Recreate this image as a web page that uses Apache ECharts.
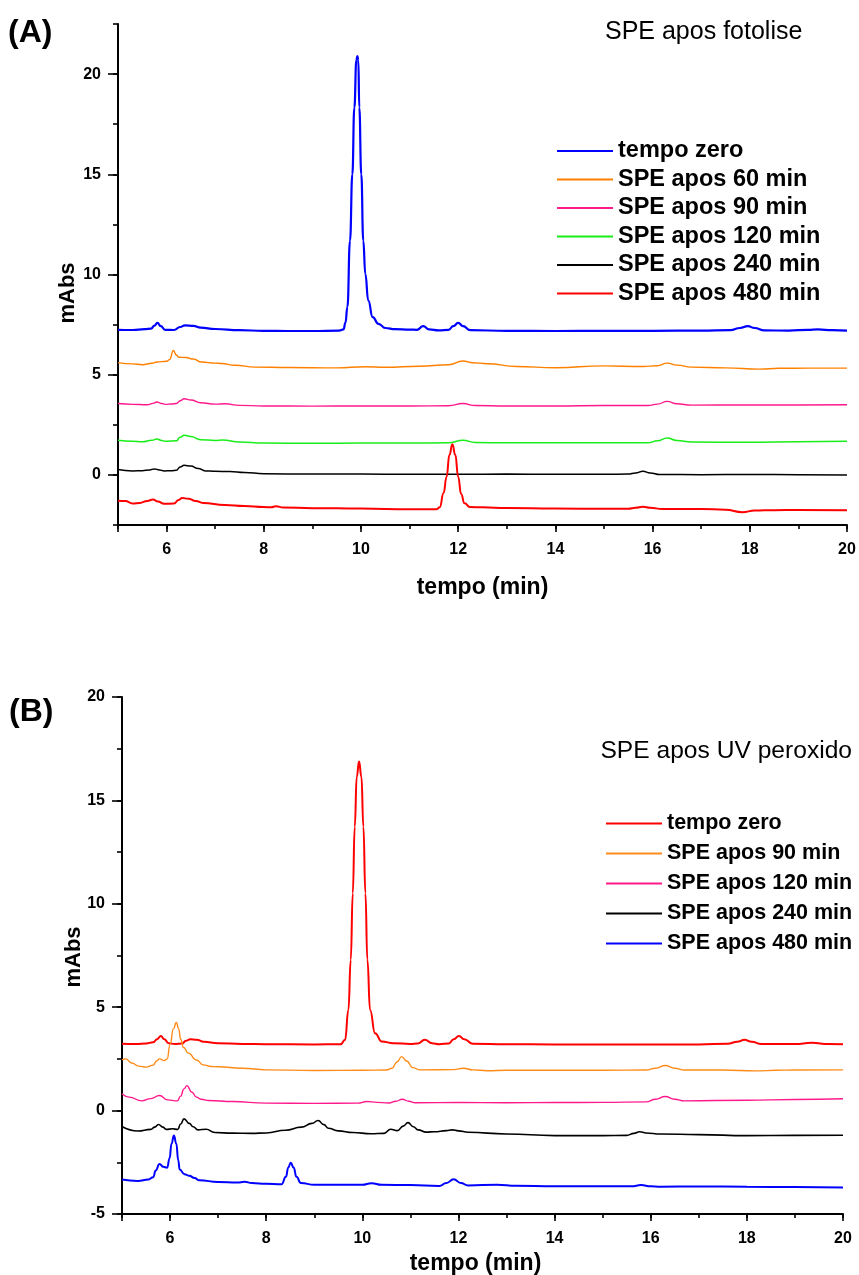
<!DOCTYPE html>
<html>
<head>
<meta charset="utf-8">
<script src="https://cdn.jsdelivr.net/npm/echarts@6/dist/echarts.min.js"></script>
<style>
html, body { margin: 0; padding: 0; background: #fff; overflow: hidden; width: 859px; height: 1275px; }
#panelA { position: absolute; left: 0; top: 0; width: 859px; height: 640px; }
#panelB { position: absolute; left: 0; top: 640px; width: 859px; height: 680px; }
</style>
</head>
<body>
<div id="panelA"></div>
<div id="panelB"></div>
<script>
// ---- Panel A: SPE apos fotolise (retention time in min, absorbance in mAbs) ----
const namesA = ['tempo zero', 'SPE apos 60 min', 'SPE apos 90 min', 'SPE apos 120 min', 'SPE apos 240 min', 'SPE apos 480 min'];
const colorsA = ['#0000ff', '#ff8000', '#ff1a8c', '#1aee1a', '#000000', '#ff0000'];

const aZero = [[5.0,7.24],[5.3,7.23],[5.55,7.27],[5.68,7.3],[5.75,7.45],[5.81,7.59],[5.88,7.42],[5.97,7.24],[6.15,7.23],[6.28,7.38],[6.38,7.46],[6.55,7.44],[6.7,7.35],[7.0,7.28],[7.5,7.22],[8.0,7.19],[8.5,7.18],[9.0,7.18],[9.55,7.2],[9.64,7.26],[9.68,7.6],[9.72,8.37],[9.774,11.69],[9.822,15.0],[9.863,18.33],[9.905,20.7],[9.925,20.9],[9.945,20.7],[9.965,18.33],[10.006,15.0],[10.047,11.69],[10.089,10.03],[10.15,8.7],[10.24,7.87],[10.36,7.54],[10.5,7.33],[10.7,7.27],[11.0,7.25],[11.15,7.24],[11.28,7.42],[11.4,7.26],[11.6,7.21],[11.8,7.24],[11.9,7.42],[12.0,7.59],[12.1,7.42],[12.25,7.22],[13.0,7.19],[14.0,7.18],[15.0,7.19],[16.0,7.19],[17.0,7.2],[17.6,7.22],[17.8,7.33],[17.96,7.42],[18.1,7.33],[18.3,7.21],[18.8,7.2],[19.2,7.24],[19.4,7.26],[19.7,7.22],[20.0,7.2]];
const a60 = [[5.0,5.6],[5.3,5.54],[5.5,5.5],[5.7,5.57],[5.8,5.63],[6.0,5.67],[6.06,5.75],[6.14,6.21],[6.2,5.98],[6.25,5.87],[6.4,5.86],[6.55,5.78],[6.72,5.63],[7.0,5.58],[7.13,5.56],[7.4,5.47],[7.82,5.38],[8.5,5.36],[9.5,5.34],[10.1,5.4],[10.5,5.37],[11.2,5.42],[11.8,5.5],[12.1,5.68],[12.3,5.6],[12.6,5.55],[13.2,5.41],[14.0,5.35],[15.0,5.44],[15.8,5.41],[16.1,5.45],[16.3,5.58],[16.5,5.48],[16.8,5.38],[17.5,5.34],[18.2,5.28],[18.6,5.32],[19.2,5.33],[20.0,5.33]];
const a90 = [[5.0,3.56],[5.3,3.52],[5.6,3.5],[5.72,3.57],[5.8,3.64],[5.9,3.56],[5.97,3.52],[6.1,3.54],[6.2,3.56],[6.28,3.7],[6.36,3.8],[6.5,3.74],[6.7,3.6],[7.0,3.53],[7.2,3.55],[7.5,3.47],[8.0,3.44],[9.0,3.43],[10.0,3.44],[11.0,3.44],[11.8,3.45],[12.1,3.56],[12.35,3.46],[13.0,3.44],[14.0,3.44],[15.0,3.46],[15.9,3.46],[16.1,3.53],[16.3,3.67],[16.5,3.55],[16.8,3.48],[18.0,3.49],[19.0,3.49],[20.0,3.5]];
const a120 = [[5.0,1.73],[5.3,1.68],[5.5,1.65],[5.7,1.73],[5.8,1.79],[5.9,1.72],[5.97,1.68],[6.2,1.7],[6.28,1.88],[6.36,1.98],[6.5,1.92],[6.7,1.76],[7.0,1.72],[7.15,1.74],[7.5,1.64],[8.0,1.59],[9.0,1.58],[10.0,1.59],[11.0,1.59],[11.8,1.6],[12.1,1.73],[12.35,1.62],[13.0,1.6],[14.0,1.6],[15.0,1.61],[15.9,1.6],[16.1,1.7],[16.3,1.84],[16.5,1.72],[16.8,1.64],[18.0,1.63],[19.0,1.66],[20.0,1.68]];
const a240 = [[5.0,0.27],[5.3,0.2],[5.5,0.21],[5.65,0.25],[5.75,0.3],[5.85,0.25],[5.95,0.2],[6.1,0.21],[6.2,0.23],[6.28,0.4],[6.36,0.48],[6.5,0.44],[6.65,0.32],[6.8,0.2],[7.0,0.18],[7.3,0.17],[7.6,0.12],[8.0,0.06],[9.0,0.04],[10.0,0.04],[11.0,0.03],[12.0,0.03],[13.0,0.04],[14.0,0.03],[15.0,0.03],[15.5,0.04],[15.65,0.1],[15.8,0.18],[15.95,0.1],[16.15,0.02],[17.0,0.01],[18.0,0.02],[19.0,0.01],[20.0,0.0]];
const a480 = [[5.0,-1.29],[5.15,-1.3],[5.3,-1.43],[5.45,-1.4],[5.6,-1.3],[5.72,-1.23],[5.82,-1.33],[5.95,-1.44],[6.15,-1.43],[6.25,-1.25],[6.32,-1.15],[6.45,-1.19],[6.6,-1.3],[6.75,-1.4],[7.2,-1.5],[7.6,-1.55],[8.0,-1.6],[8.15,-1.62],[8.25,-1.56],[8.4,-1.63],[9.0,-1.66],[10.0,-1.68],[11.0,-1.72],[11.55,-1.72],[11.62,-1.62],[11.7,-0.9],[11.76,-0.1],[11.82,1.0],[11.88,1.53],[11.94,1.0],[12.0,-0.1],[12.06,-0.95],[12.13,-1.42],[12.24,-1.6],[12.5,-1.62],[13.0,-1.65],[14.0,-1.68],[15.0,-1.69],[15.5,-1.69],[15.65,-1.64],[15.8,-1.59],[15.95,-1.64],[16.2,-1.7],[17.0,-1.7],[17.5,-1.74],[17.85,-1.86],[18.1,-1.78],[18.5,-1.76],[19.0,-1.75],[20.0,-1.76]];
const seriesA = [aZero, a60, a90, a120, a240, a480];
const widthsA = [2.2, 1.4, 1.4, 1.5, 1.5, 2];

// ---- Panel B: SPE apos UV peroxido ----
const namesB = ['tempo zero', 'SPE apos 90 min', 'SPE apos 120 min', 'SPE apos 240 min', 'SPE apos 480 min'];
const colorsB = ['#ff0000', '#ff8c1a', '#ff1a8c', '#000000', '#0000ff'];

const bZero = [[5.0,3.23],[5.3,3.22],[5.5,3.25],[5.65,3.3],[5.73,3.45],[5.81,3.61],[5.88,3.45],[5.97,3.26],[6.1,3.22],[6.25,3.24],[6.33,3.38],[6.42,3.45],[6.55,3.43],[6.7,3.33],[7.0,3.26],[7.5,3.22],[8.0,3.21],[9.0,3.2],[9.55,3.21],[9.641,3.42],[9.71,4.87],[9.759,7.29],[9.801,10.51],[9.842,13.73],[9.884,16.15],[9.932,16.88],[9.981,16.15],[10.022,13.73],[10.064,10.51],[10.105,7.29],[10.161,4.87],[10.265,3.74],[10.405,3.34],[10.646,3.26],[11.0,3.22],[11.15,3.24],[11.3,3.42],[11.45,3.26],[11.6,3.21],[11.8,3.25],[11.9,3.45],[12.01,3.61],[12.12,3.45],[12.3,3.23],[13.0,3.21],[14.0,3.2],[15.0,3.2],[16.0,3.2],[17.0,3.2],[17.6,3.23],[17.8,3.33],[17.95,3.42],[18.1,3.33],[18.3,3.22],[19.0,3.22],[19.35,3.28],[19.7,3.22],[20.0,3.21]];
const b90 = [[5.0,2.45],[5.08,2.5],[5.2,2.3],[5.35,2.15],[5.5,2.1],[5.65,2.2],[5.72,2.4],[5.78,2.5],[5.88,2.42],[5.94,2.5],[6.0,3.2],[6.07,3.95],[6.13,4.26],[6.18,3.95],[6.22,3.45],[6.28,3.05],[6.38,2.78],[6.55,2.45],[6.69,2.21],[6.85,2.13],[7.0,2.12],[7.5,2.05],[8.0,1.97],[9.0,1.94],[10.0,1.95],[10.5,1.96],[10.62,2.05],[10.72,2.35],[10.82,2.61],[10.92,2.4],[11.05,2.08],[11.2,1.97],[11.9,1.98],[12.1,2.05],[12.3,1.97],[12.6,1.93],[13.0,1.95],[14.0,1.95],[15.0,1.95],[15.9,1.96],[16.1,2.05],[16.3,2.18],[16.5,2.05],[16.7,1.96],[17.5,1.96],[18.2,1.92],[18.6,1.95],[19.0,1.96],[20.0,1.97]];
const b120 = [[5.0,0.81],[5.15,0.65],[5.41,0.47],[5.6,0.58],[5.78,0.73],[5.95,0.52],[6.15,0.47],[6.22,0.7],[6.29,1.05],[6.35,1.21],[6.45,0.9],[6.55,0.65],[6.65,0.55],[6.8,0.49],[7.3,0.44],[8.0,0.36],[9.0,0.35],[9.9,0.36],[10.1,0.44],[10.3,0.4],[10.55,0.37],[10.7,0.45],[10.83,0.55],[10.97,0.45],[11.1,0.38],[12.0,0.39],[13.0,0.38],[14.0,0.39],[15.0,0.4],[15.9,0.42],[16.1,0.55],[16.3,0.68],[16.5,0.55],[16.7,0.47],[18.0,0.5],[19.0,0.54],[20.0,0.57]];
const b240 = [[5.0,-0.77],[5.33,-0.99],[5.6,-0.91],[5.68,-0.8],[5.76,-0.67],[5.85,-0.8],[5.92,-0.91],[6.05,-0.88],[6.16,-0.91],[6.22,-0.65],[6.29,-0.4],[6.4,-0.62],[6.48,-0.78],[6.58,-0.93],[6.75,-0.9],[6.93,-1.06],[7.3,-1.09],[7.7,-1.1],[8.0,-1.08],[8.4,-0.95],[8.73,-0.8],[8.95,-0.62],[9.08,-0.48],[9.2,-0.68],[9.29,-0.85],[9.5,-0.98],[9.8,-1.06],[10.19,-1.12],[10.45,-1.1],[10.59,-0.9],[10.73,-0.97],[10.85,-0.75],[10.95,-0.58],[11.06,-0.78],[11.16,-0.93],[11.33,-1.04],[11.5,-1.02],[11.75,-0.97],[11.87,-0.93],[12.0,-0.98],[12.2,-1.05],[13.0,-1.13],[14.0,-1.21],[15.0,-1.21],[15.5,-1.2],[15.65,-1.1],[15.77,-1.02],[15.9,-1.08],[16.2,-1.13],[17.0,-1.16],[18.0,-1.21],[19.0,-1.2],[20.0,-1.19]];
const b480 = [[5.0,-3.33],[5.33,-3.4],[5.55,-3.33],[5.65,-3.22],[5.7,-2.9],[5.78,-2.58],[5.86,-2.72],[5.94,-2.76],[5.99,-2.3],[6.03,-1.6],[6.08,-1.2],[6.13,-1.6],[6.17,-2.4],[6.2,-2.85],[6.3,-3.08],[6.4,-3.15],[6.51,-3.26],[6.61,-3.37],[7.0,-3.45],[7.4,-3.48],[7.55,-3.44],[7.7,-3.5],[8.0,-3.54],[8.32,-3.56],[8.41,-3.2],[8.46,-2.75],[8.51,-2.52],[8.57,-2.75],[8.63,-3.2],[8.72,-3.5],[9.0,-3.59],[10.0,-3.59],[10.19,-3.51],[10.4,-3.59],[11.0,-3.6],[11.6,-3.64],[11.75,-3.5],[11.9,-3.32],[12.05,-3.5],[12.2,-3.62],[12.8,-3.58],[13.2,-3.63],[14.0,-3.66],[15.0,-3.66],[15.6,-3.66],[15.8,-3.6],[16.0,-3.66],[16.2,-3.68],[17.0,-3.67],[18.0,-3.68],[19.0,-3.7],[20.0,-3.72]];
const seriesB = [bZero, b90, b120, b240, b480];
const widthsB = [2, 1.4, 1.4, 1.6, 2];

// ---- shared axis ticks ----
const xMajorTicks = [5, 6, 8, 10, 12, 14, 16, 18, 20];
const yMajorTicksA = [0, 5, 10, 15, 20];
const yMajorTicksB = [-5, 0, 5, 10, 15, 20];

const FONT = "'Liberation Sans', Arial, Helvetica, sans-serif";

function buildPanel(p) {
  const axisLineStyle = { color: '#000', width: 2 };
  const tickStyle = { color: '#000', width: 1.6 };
  const labelStyle = { color: '#000', fontFamily: FONT, fontWeight: 'bold', fontSize: 16 };
  return {
    animation: false,
    backgroundColor: '#fff',
    grid: Object.assign({ containLabel: false, outerBoundsMode: 'none' }, p.grid),
    legend: {
      orient: 'vertical',
      left: p.legend.left,
      top: p.legend.top,
      padding: 0,
      icon: 'rect',
      itemWidth: 56,
      itemHeight: 2,
      itemGap: p.legend.gap,
      selectedMode: false,
      data: p.names,
      textStyle: { color: '#000', fontFamily: FONT, fontWeight: 'bold', fontSize: p.legend.fontSize }
    },
    xAxis: [{
      type: 'value', min: 5, max: 20, interval: 1, position: 'bottom',
      axisLine: { onZero: false, lineStyle: axisLineStyle },
      axisTick: { length: 4, lineStyle: tickStyle },
      axisLabel: Object.assign({ margin: 17, formatter: v => (v % 2 === 0 ? String(v) : '') }, labelStyle),
      splitLine: { show: false },
      name: 'tempo (min)', nameLocation: 'middle', nameGap: p.xNameGap,
      nameTextStyle: { color: '#000', fontFamily: FONT, fontWeight: 'bold', fontSize: 23, padding: p.xNamePad }
    }, {
      type: 'value', min: 5, max: 20, position: 'bottom', offset: 0,
      axisLine: { show: false, onZero: false },
      axisTick: { show: true, length: 7, customValues: xMajorTicks, lineStyle: tickStyle },
      axisLabel: { show: false },
      splitLine: { show: false }
    }],
    yAxis: [{
      type: 'value', min: p.yMin, max: p.yMax, interval: 2.5, position: 'left',
      axisLine: { show: true, onZero: false, lineStyle: axisLineStyle },
      axisTick: { show: true, length: 5, lineStyle: tickStyle },
      axisLabel: Object.assign({ margin: 17, formatter: v => (v % 5 === 0 ? String(v) : '') }, labelStyle),
      splitLine: { show: false }
    }, {
      type: 'value', min: p.yMin, max: p.yMax, position: 'left', offset: 0,
      axisLine: { show: false, onZero: false },
      axisTick: { show: true, length: 10, customValues: p.yMajor, lineStyle: tickStyle },
      axisLabel: { show: false },
      splitLine: { show: false }
    }],
    graphic: p.graphic,
    series: p.data.map((d, i) => ({
      type: 'line',
      name: p.names[i],
      xAxisIndex: 0,
      yAxisIndex: 0,
      data: d,
      symbol: 'none',
      showSymbol: false,
      smooth: 0.5,
      smoothMonotone: 'x',
      color: p.colors[i],
      lineStyle: { color: p.colors[i], width: p.widths[i] },
      itemStyle: { color: p.colors[i] }
    }))
  };
}

function textEl(text, x, y, size, weight, align, rotation) {
  return {
    type: 'text', x: x, y: y, rotation: rotation || 0,
    style: { text: text, fill: '#000', font: weight + ' ' + size + 'px ' + FONT, textAlign: align, textVerticalAlign: 'middle' }
  };
}

const chartA = echarts.init(document.getElementById('panelA'), null, { renderer: 'canvas' });
chartA.setOption(buildPanel({
  grid: { left: 118, top: 24, width: 729, height: 501 },
  legend: { left: 557, top: 139, gap: 4.5, fontSize: 23.5 },
  names: namesA, colors: colorsA, widths: widthsA, data: seriesA,
  yMin: -2.5, yMax: 22.5, yMajor: yMajorTicksA, xNameGap: 51, xNamePad: 0,
  graphic: [
    textEl('(A)', 8, 33, 32, 'bold', 'left'),
    textEl('SPE apos fotolise', 605, 32, 25, 'normal', 'left'),
    textEl('mAbs', 68, 293, 22, 'bold', 'center', Math.PI / 2)
  ]
}));

const chartB = echarts.init(document.getElementById('panelB'), null, { renderer: 'canvas' });
chartB.setOption(buildPanel({
  grid: { left: 122, top: 57, width: 721, height: 517 },
  legend: { left: 606, top: 172.5, gap: 8.0, fontSize: 21.5 },
  names: namesB, colors: colorsB, widths: widthsB, data: seriesB,
  yMin: -5, yMax: 20, yMajor: yMajorTicksB, xNameGap: 37, xNamePad: [0, 14, 0, 0],
  graphic: [
    textEl('(B)', 9, 72, 32, 'bold', 'left'),
    textEl('SPE apos UV peroxido', 852, 111, 24.6, 'normal', 'right'),
    textEl('mAbs', 74, 317, 22, 'bold', 'center', Math.PI / 2)
  ]
}));
</script>
</body>
</html>
